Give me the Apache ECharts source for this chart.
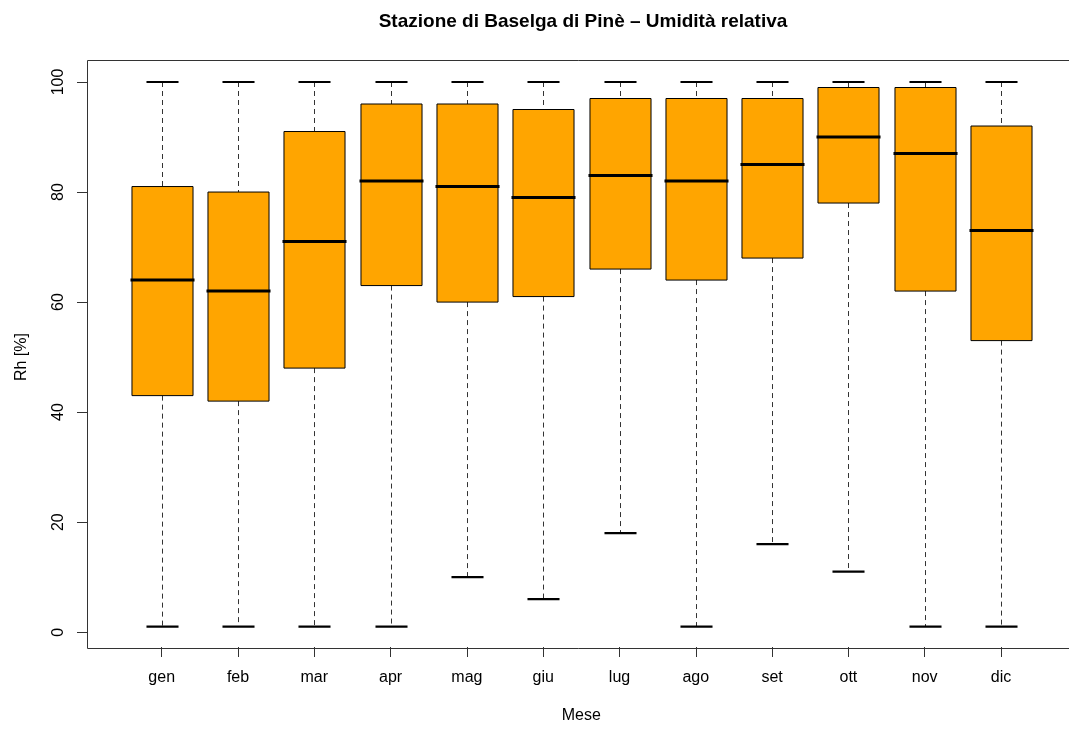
<!DOCTYPE html>
<html>
<head>
<meta charset="utf-8">
<script src="https://cdn.jsdelivr.net/npm/echarts@6/dist/echarts.min.js"></script>
<style>
html,body{margin:0;padding:0;background:#fff;}
#chart{width:1069px;height:729px;}
</style>
</head>
<body>
<div id="chart"></div>
<script>
const months = ['gen','feb','mar','apr','mag','giu','lug','ago','set','ott','nov','dic'];
const whiskerLow  = [1, 1, 1, 1, 10, 6, 18, 1, 16, 11, 1, 1];
const quartile1   = [43, 42, 48, 63, 60, 61, 66, 64, 68, 78, 62, 53];
const medians     = [64, 62, 71, 82, 81, 79, 83, 82, 85, 90, 87, 73];
const quartile3   = [81, 80, 91, 96, 96, 95, 97, 97, 97, 99, 99, 92];
const whiskerHigh = [100, 100, 100, 100, 100, 100, 100, 100, 100, 100, 100, 100];
const yTicks = [0, 20, 40, 60, 80, 100];

const data = months.map((m, i) => [i, whiskerLow[i], quartile1[i], medians[i], quartile3[i], whiskerHigh[i]]);

const FONT = '"Liberation Sans", Arial, Helvetica, sans-serif';

const chart = echarts.init(document.getElementById('chart'), null, {renderer: 'canvas'});

function renderItem(params, api) {
  const x = api.value(0);
  const band = api.size([1, 0])[0];
  const boxW = band * 0.8;
  const capW = band * 0.42;
  const pMin = api.coord([x, api.value(1)]);
  const pQ1 = api.coord([x, api.value(2)]);
  const pMed = api.coord([x, api.value(3)]);
  const pQ3 = api.coord([x, api.value(4)]);
  const pMax = api.coord([x, api.value(5)]);
  const cx = Math.round(pMed[0]) + 0.5;
  const dash = {stroke: '#333', lineWidth: 1, lineDash: [5, 4]};
  return {
    type: 'group',
    children: [
      {type: 'line', shape: {x1: cx, y1: pMax[1], x2: cx, y2: pQ3[1]}, style: dash},
      {type: 'line', shape: {x1: cx, y1: pQ1[1], x2: cx, y2: pMin[1]}, style: dash},
      {type: 'line', shape: {x1: cx - capW / 2, y1: pMax[1], x2: cx + capW / 2, y2: pMax[1]}, style: {stroke: '#000', lineWidth: 2.2}},
      {type: 'line', shape: {x1: cx - capW / 2, y1: pMin[1], x2: cx + capW / 2, y2: pMin[1]}, style: {stroke: '#000', lineWidth: 2.2}},
      {type: 'rect', shape: {x: cx - boxW / 2, y: pQ3[1], width: boxW, height: pQ1[1] - pQ3[1]},
        style: {fill: '#FFA500', stroke: '#000', lineWidth: 1}},
      {type: 'line', shape: {x1: cx - boxW / 2 - 1.5, y1: pMed[1], x2: cx + boxW / 2 + 1.5, y2: pMed[1]},
        style: {stroke: '#000', lineWidth: 3}}
    ]
  };
}

const option = {
  backgroundColor: '#fff',
  animation: false,
  title: {
    text: 'Stazione di Baselga di Pinè – Umidità relativa',
    left: 578, top: 7, textAlign: 'center',
    textStyle: {fontFamily: FONT, fontSize: 19, fontWeight: 'bold', color: '#000'}
  },
  grid: [
    {left: 123.55, top: 82, width: 915.6, height: 550.2, containLabel: false},
    {left: 123.55, top: 60, width: 915.6, height: 589, containLabel: false}
  ],
  graphic: [
    {type: 'rect', shape: {x: 87.5, y: 60.5, width: 989, height: 588}, silent: true, z: 10,
      style: {fill: 'none', stroke: '#333', lineWidth: 1}}
  ],
  xAxis: [
    {
      type: 'category', gridIndex: 0, data: months, boundaryGap: true,
      show: false
    },
    {
      type: 'category', gridIndex: 1, data: months, boundaryGap: true,
      position: 'bottom',
      name: 'Mese',
      nameLocation: 'middle',
      nameGap: 61,
      nameTextStyle: {fontFamily: FONT, fontSize: 16, color: '#000'},
      axisLine: {show: false, onZero: false},
      axisTick: {show: true, alignWithLabel: true, length: 10, inside: false, lineStyle: {color: '#333'}},
      axisLabel: {fontFamily: FONT, fontSize: 16, color: '#000', margin: 23},
      splitLine: {show: false}
    }
  ],
  yAxis: [
    {
      type: 'value', gridIndex: 0,
      min: 0, max: 100, interval: 20,
      offset: 36.55,
      name: 'Rh [%]',
      nameLocation: 'middle',
      nameGap: 57,
      nameTextStyle: {fontFamily: FONT, fontSize: 16, color: '#000'},
      axisLine: {show: true, onZero: false, lineStyle: {color: '#333', width: 1}},
      axisTick: {show: true, length: 10, lineStyle: {color: '#333'}},
      axisLabel: {fontFamily: FONT, fontSize: 16, color: '#000', rotate: 90, margin: 20,
        formatter: v => (yTicks.indexOf(v) >= 0 ? String(v) : '')},
      splitLine: {show: false}
    },
    {
      type: 'value', gridIndex: 1, min: 0, max: 1, show: false
    }
  ],
  series: [{
    type: 'custom',
    xAxisIndex: 0, yAxisIndex: 0,
    renderItem: renderItem,
    data: data,
    encode: {x: 0, y: [1, 2, 3, 4, 5]},
    clip: false
  }]
};
chart.setOption(option);
</script>
</body>
</html>
